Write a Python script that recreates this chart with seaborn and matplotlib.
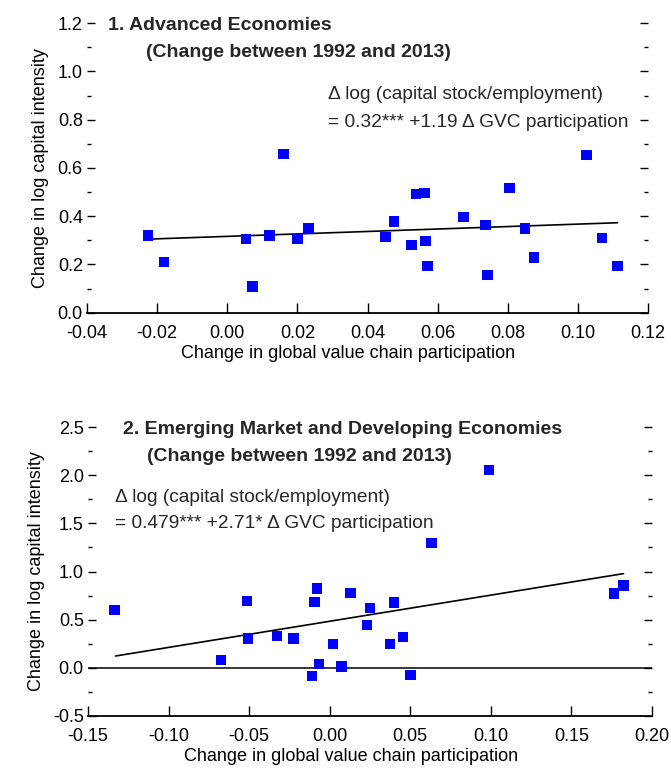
import numpy as np
import pandas as pd
import matplotlib.pyplot as plt
import seaborn as sns
from matplotlib.ticker import MultipleLocator, FormatStrFormatter

# Panel 1: Advanced Economies
ae_gvc = [-0.0226, -0.0180, 0.0054, 0.0072, 0.0120, 0.0160, 0.0200, 0.0231,
          0.0451, 0.0475, 0.0526, 0.0538, 0.0563, 0.0565, 0.0571, 0.0674,
          0.0736, 0.0743, 0.0805, 0.0849, 0.0875, 0.1025, 0.1069, 0.1113]
ae_cap = [0.321, 0.210, 0.305, 0.108, 0.319, 0.657, 0.305, 0.350,
          0.314, 0.377, 0.280, 0.492, 0.497, 0.298, 0.194, 0.397,
          0.363, 0.157, 0.517, 0.349, 0.228, 0.654, 0.310, 0.194]
ae_fit_x = [-0.0226, 0.1113]
ae_fit_y = [0.305, 0.373]

# Panel 2: Emerging Market and Developing Economies
em_gvc = [-0.1334, -0.0675, -0.0513, -0.0508, -0.0327, -0.0223, -0.0109, -0.0093,
          -0.0080, -0.0066, 0.0021, 0.0074, 0.0128, 0.0231, 0.0250, 0.0375,
          0.0399, 0.0454, 0.0500, 0.0630, 0.0989, 0.1765, 0.1823]
em_cap = [0.600, 0.080, 0.693, 0.305, 0.329, 0.302, -0.087, 0.683,
          0.825, 0.038, 0.246, 0.010, 0.777, 0.444, 0.621, 0.246,
          0.676, 0.319, -0.076, 1.297, 2.056, 0.773, 0.853]
em_fit_x = [-0.1329, 0.1823]
em_fit_y = [0.121, 0.978]

sns.set_theme(style="white")
plt.rcParams['font.family'] = ['Liberation Sans', 'DejaVu Sans']
plt.rcParams['axes.unicode_minus'] = True

FS = 13
FS_TITLE = 14
FS_EQ = 13.8
BLUE = '#0000FF'


def draw_panel(ax, gvc, cap, fit_x, fit_y, xlim, ylim, xmaj, ymaj, title,
               eq, title_pos, eq_pos, xlabel_x, zero_line=False):
    df = pd.DataFrame({'gvc': gvc, 'cap': cap})
    if zero_line:
        ax.axhline(0, color='black', lw=1.1, zorder=1)
    ax.plot(fit_x, fit_y, color='black', lw=1.2, zorder=2)
    sns.scatterplot(data=df, x='gvc', y='cap', ax=ax, marker='s', s=58,
                    color=BLUE, edgecolor='none', linewidth=0, zorder=3)
    ax.set_xlim(*xlim)
    ax.set_ylim(*ylim)
    ax.xaxis.set_major_locator(MultipleLocator(xmaj))
    ax.xaxis.set_major_formatter(FormatStrFormatter('%.2f'))
    ax.yaxis.set_major_locator(MultipleLocator(ymaj))
    ax.yaxis.set_minor_locator(MultipleLocator(ymaj / 2))
    ax.yaxis.set_major_formatter(FormatStrFormatter('%.1f'))
    for s in ['left', 'right', 'top']:
        ax.spines[s].set_visible(False)
    ax.spines['bottom'].set_color('black')
    ax.spines['bottom'].set_linewidth(1.3)
    ax.tick_params(axis='y', which='both', direction='in', left=True,
                   right=True, colors='black', labelsize=FS, pad=3)
    ax.tick_params(axis='y', which='major', length=6, width=1)
    ax.tick_params(axis='y', which='minor', length=3, width=1)
    ax.tick_params(axis='x', which='major', direction='in', bottom=True,
                   length=7, width=1, colors='black', labelsize=FS, pad=9)
    ax.set_xlabel('Change in global value chain participation', fontsize=FS,
                  color='black')
    ax.xaxis.set_label_coords(xlabel_x, -0.112)
    ax.set_ylabel('Change in log capital intensity', fontsize=FS,
                  color='black', labelpad=6)
    ax.text(title_pos[0], title_pos[1], title[0], fontsize=FS_TITLE,
            fontweight='bold', va='center', ha='left')
    ax.text(title_pos[2], title_pos[3], title[1], fontsize=FS_TITLE,
            fontweight='bold', va='center', ha='left')
    ax.text(eq_pos[0], eq_pos[1], eq[0], fontsize=FS_EQ, va='center', ha='left')
    ax.text(eq_pos[0], eq_pos[2], eq[1], fontsize=FS_EQ, va='center', ha='left')


fig = plt.figure(figsize=(6.71, 7.68), dpi=100)
ax1 = fig.add_axes([0.1297, 0.5928, 0.836, 0.377])
ax2 = fig.add_axes([0.1311, 0.0681, 0.8406, 0.3755])

draw_panel(ax1, ae_gvc, ae_cap, ae_fit_x, ae_fit_y, (-0.04, 0.12), (0, 1.2),
           0.02, 0.2,
           ['1. Advanced Economies', '(Change between 1992 and 2013)'],
           ['\u0394 log (capital stock/employment)',
            '= 0.32*** +1.19 \u0394 GVC participation'],
           (-0.034, 1.19, -0.0232, 1.078), (0.0287, 0.905, 0.79), 0.465)

draw_panel(ax2, em_gvc, em_cap, em_fit_x, em_fit_y, (-0.15, 0.20), (-0.5, 2.5),
           0.05, 0.5,
           ['2. Emerging Market and Developing Economies',
            '(Change between 1992 and 2013)'],
           ['\u0394 log (capital stock/employment)',
            '= 0.479*** +2.71* \u0394 GVC participation'],
           (-0.1283, 2.48, -0.1134, 2.2), (-0.1332, 1.77, 1.5), 0.467,
           zero_line=True)

fig.savefig('out.png', dpi=100)
